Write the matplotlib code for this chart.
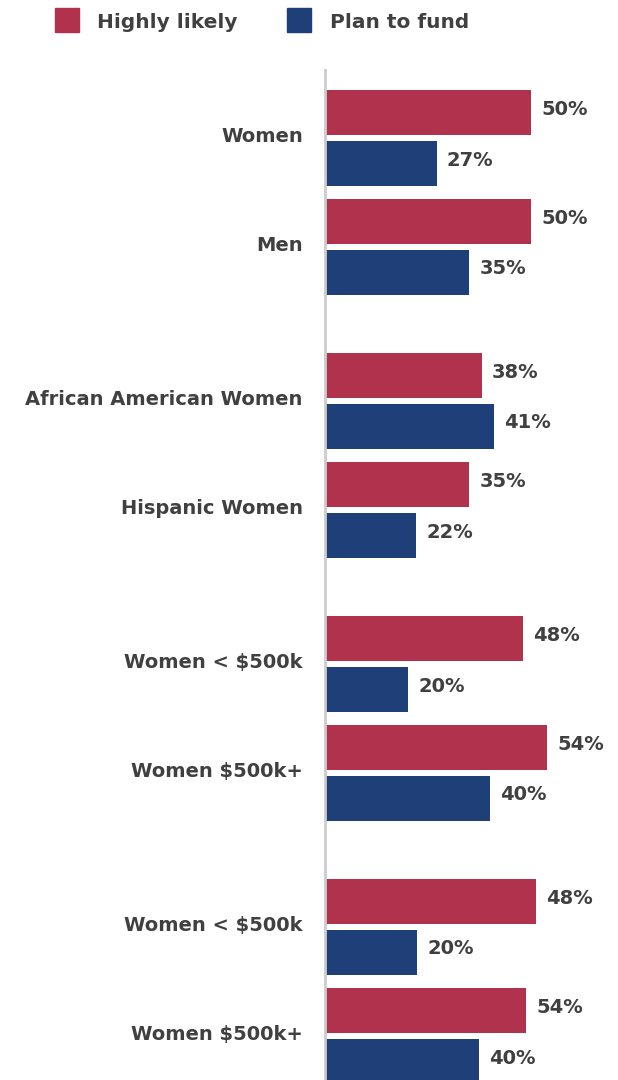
import numpy as np
import matplotlib.pyplot as plt
from matplotlib.lines import Line2D

categories = ["Women", "Men",
              "African American Women", "Hispanic Women",
              "Women < $500k", "Women $500k+",
              "Women < $500k", "Women $500k+"]
# bar lengths as drawn (percent)
highly_likely = [50, 50, 38, 35, 48, 54, 51.2, 48.8]
plan_to_fund = [27, 35, 41, 22, 20, 40, 22.2, 37.3]
# labels as printed
highly_labels = ["50%", "50%", "38%", "35%", "48%", "54%", "48%", "54%"]
plan_labels = ["27%", "35%", "41%", "22%", "20%", "40%", "20%", "40%"]

RED = "#B0324D"
BLUE = "#1F3F78"
TXT = "#404040"

plt.rcParams['font.family'] = ['DejaVu Sans']

W, H = 618, 1080
fig = plt.figure(figsize=(W / 100, H / 100), dpi=100)
ax_left, ax_top = 325, 70
ax = fig.add_axes([ax_left / W, 0, 1 - ax_left / W, 1 - ax_top / H])

# layout in pixel units
bar_h = 45
red_top = np.array([90 + (i // 2) * 263 + (i % 2) * 109 for i in range(len(categories))])
red_y = red_top + bar_h / 2
blue_y = red_y + 50.5
label_y = (red_y + blue_y) / 2 - 3

ax.barh(red_y, highly_likely, height=bar_h, color=RED, left=0.2)
ax.barh(blue_y, plan_to_fund, height=bar_h, color=BLUE, left=0.2)

px = 4.1  # pixels per percent
ax.set_xlim(0, (W - ax_left) / px)
ax.set_ylim(H, ax_top)

for y, v, s in zip(red_y, highly_likely, highly_labels):
    ax.text(v + 11 / px, y - 3, s, va='center', ha='left', fontsize=14,
            fontweight='bold', color=TXT)
for y, v, s in zip(blue_y, plan_to_fund, plan_labels):
    ax.text(v + 11 / px, y - 3, s, va='center', ha='left', fontsize=14,
            fontweight='bold', color=TXT)

ax.set_yticks(label_y)
ax.set_yticklabels(categories, fontsize=14, fontweight='bold', color=TXT)
ax.tick_params(axis='y', length=0, pad=16)
ax.set_xticks([])
for side in ['top', 'right', 'bottom']:
    ax.spines[side].set_visible(False)
ax.spines['left'].set_color('#cccccc')
ax.spines['left'].set_linewidth(2)

handles = [Line2D([], [], marker='s', ls='', markersize=17, color=RED),
           Line2D([], [], marker='s', ls='', markersize=17, color=BLUE)]
leg = fig.legend(handles, ["Highly likely", "Plan to fund"], ncol=2,
                 loc='center', bbox_to_anchor=(262 / W, 1 - 22 / H), frameon=False,
                 prop={'size': 14.5, 'weight': 'bold'}, columnspacing=2.45,
                 handlelength=1.2, handletextpad=0.9, borderpad=0)
for t in leg.get_texts():
    t.set_color(TXT)

fig.savefig("out.png", dpi=100)
